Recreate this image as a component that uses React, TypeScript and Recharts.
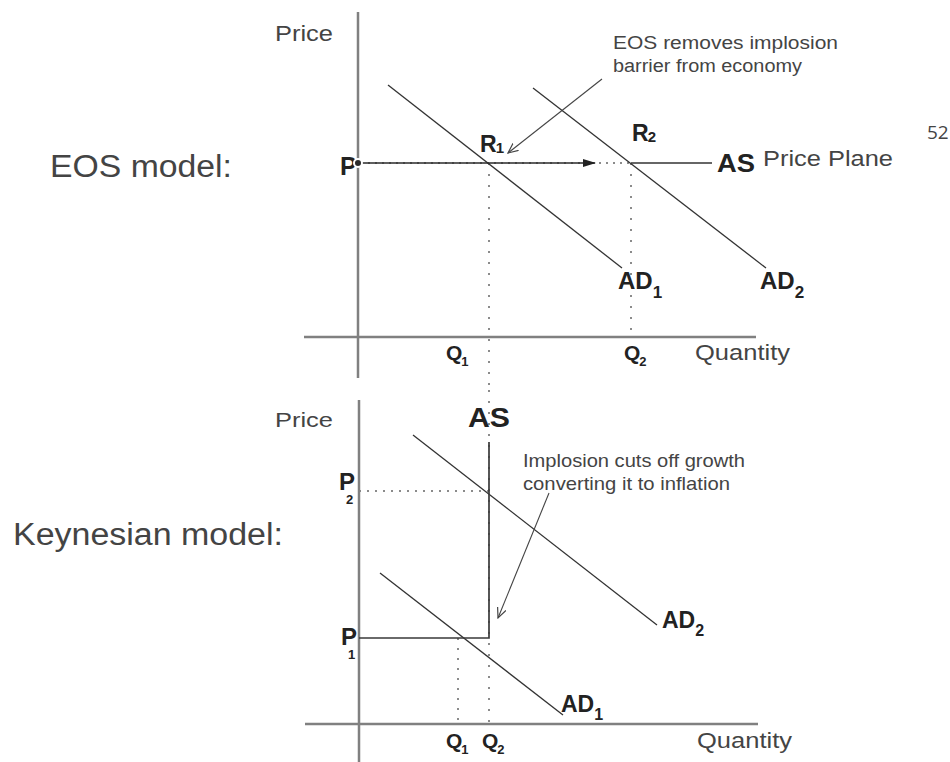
import { LineChart, Line, XAxis, YAxis, ReferenceLine, ReferenceDot } from 'recharts';

const FONT = '"Liberation Sans", Arial, Helvetica, sans-serif';

// EOS model (top panel): quantity on x, price on y
const eosPrice = 17.4;
const eosQuantities = [13.1, 27.3]; // Q1, Q2
const eosAD1 = [{ q: 3.0, p: 25.2 }, { q: 26.4, p: 6.9 }];
const eosAD2 = [{ q: 17.5, p: 24.9 }, { q: 40.8, p: 6.9 }];
const eosAS = [{ q: 0, p: eosPrice }, { q: 35.4, p: eosPrice }];
const eosShift = [{ q: 0, p: eosPrice }, { q: 23.7, p: eosPrice }];
const eosNote = [{ q: 24.4, p: 25.8 }, { q: 15.0, p: 18.4 }];

// Keynesian model (bottom panel)
const keynesPrices = [8.6, 23.3]; // P1, P2
const keynesQuantities = [9.9, 13.0]; // Q1, Q2
const keynesAD1 = [{ q: 2.1, p: 15.1 }, { q: 20.4, p: 0.9 }];
const keynesAD2 = [{ q: 5.4, p: 28.9 }, { q: 29.8, p: 9.9 }];
const keynesAS = [
  { q: 0, p: keynesPrices[0] },
  { q: keynesQuantities[1], p: keynesPrices[0] },
  { q: keynesQuantities[1], p: 28.2 }
];
const keynesNote = [{ q: 19.0, p: 23.1 }, { q: 13.9, p: 10.6 }];

type Tag = {
  x: number;
  y: number;
  text: string;
  size: number;
  bold?: boolean;
  len?: number;
  sub?: string;
  subSize?: number;
  subDx?: number;
  subDy?: number;
  font?: string;
};

const eosTags: Tag[] = [
  { x: -8.3, y: 29.6, text: 'Price', size: 22, len: 58 },
  { x: -1.8, y: eosPrice - 1.2, text: 'P', size: 25, bold: true },
  { x: 12.2, y: 18.5, text: 'R', sub: '1', size: 23, bold: true, subSize: 15, subDx: -1, subDy: 1 },
  { x: 27.4, y: 19.6, text: 'R', sub: '2', size: 23, bold: true, subSize: 15, subDx: -1, subDy: 1 },
  { x: 35.9, y: 16.5, text: 'AS', size: 26, bold: true, len: 38 },
  { x: 40.5, y: 17.1, text: 'Price Plane', size: 22, len: 130 },
  { x: 25.5, y: 28.8, text: 'EOS removes implosion', size: 18, len: 225 },
  { x: 25.5, y: 26.5, text: 'barrier from economy', size: 18, len: 189 },
  { x: 26.0, y: 4.8, text: 'AD', sub: '1', size: 24, bold: true, subSize: 17, subDy: 9 },
  { x: 40.2, y: 4.8, text: 'AD', sub: '2', size: 24, bold: true, subSize: 17, subDy: 9 },
  { x: 8.8, y: -2.3, text: 'Q', sub: '1', size: 21, bold: true, subSize: 13, subDx: -1, subDy: 6 },
  { x: 26.6, y: -2.3, text: 'Q', sub: '2', size: 21, bold: true, subSize: 13, subDx: -1, subDy: 6 },
  { x: 33.7, y: -2.3, text: 'Quantity', size: 22, len: 95 },
  { x: -30.8, y: 16.0, text: 'EOS model:', size: 31, len: 182 },
  { x: 56.9, y: 19.8, text: '52', size: 19, font: '"Open Sans", sans-serif' }
];

const keynesTags: Tag[] = [
  { x: -8.4, y: 29.7, text: 'Price', size: 21, len: 58 },
  { x: 10.9, y: 29.7, text: 'AS', size: 27, bold: true, len: 42 },
  { x: -2.0, y: 23.4, text: 'P', sub: '2', size: 24, bold: true, subSize: 13, subDx: -9, subDy: 14 },
  { x: -1.8, y: 7.9, text: 'P', sub: '1', size: 24, bold: true, subSize: 13, subDx: -9, subDy: 14 },
  { x: 16.4, y: 25.7, text: 'Implosion cuts off growth', size: 18.5, len: 222 },
  { x: 16.4, y: 23.4, text: 'converting it to inflation', size: 18.5, len: 207 },
  { x: 30.3, y: 9.6, text: 'AD', sub: '2', size: 23, bold: true, subSize: 16, subDy: 8 },
  { x: 20.2, y: 1.2, text: 'AD', sub: '1', size: 23, bold: true, subSize: 16, subDy: 8 },
  { x: 8.7, y: -2.4, text: 'Q', sub: '1', size: 21, bold: true, subSize: 13, subDx: -1, subDy: 6 },
  { x: 12.3, y: -2.4, text: 'Q', sub: '2', size: 21, bold: true, subSize: 13, subDx: -1, subDy: 6 },
  { x: 33.8, y: -2.4, text: 'Quantity', size: 22, len: 95 },
  { x: -34.6, y: 17.9, text: 'Keynesian model:', size: 31, len: 270 }
];

const AXIS = '#808080';
const INK = '#333';
const DOT = '#666';

const TagText = ({ cx, cy, tag }: { cx: number; cy: number; tag: Tag }) => (
  <text
    x={cx}
    y={cy}
    fontFamily={tag.font ?? FONT}
    fontSize={tag.size}
    fontWeight={tag.bold ? 700 : 400}
    fill={tag.bold ? '#222' : '#444'}
    textLength={tag.len}
    lengthAdjust={tag.len ? 'spacingAndGlyphs' : undefined}
  >
    {tag.text}
    {tag.sub && (
      <tspan dx={tag.subDx ?? 0} dy={tag.subDy ?? 0} fontSize={tag.subSize}>
        {tag.sub}
      </tspan>
    )}
  </text>
);

const renderTags = (tags: Tag[]) =>
  tags.map((t, i) => (
    <ReferenceDot
      key={i}
      x={t.x}
      y={t.y}
      r={0}
      ifOverflow="visible"
      shape={(props: any) => <TagText cx={props.cx} cy={props.cy} tag={t} />}
    />
  ));

const Markers = ({ id }: { id: string }) => (
  <defs>
    <marker id={`${id}-fill`} markerWidth="13" markerHeight="8" refX="12" refY="4" orient="auto" markerUnits="userSpaceOnUse">
      <path d="M0,0 L13,4 L0,8 Z" fill="#222" />
    </marker>
    <marker id={`${id}-open`} markerWidth="11" markerHeight="10" refX="10" refY="5" orient="auto" markerUnits="userSpaceOnUse">
      <path d="M0,0.5 L10,5 L0,9.5" fill="none" stroke="#444" strokeWidth="1.2" />
    </marker>
  </defs>
);

const seg = (x1: number, y1: number, x2: number, y2: number) => [
  { x: x1, y: y1 },
  { x: x2, y: y2 }
];

const EosPanel = () => (
  <LineChart width={950} height={390} margin={{ top: 0, right: 0, bottom: 0, left: 0 }}>
    <Markers id="eos" />
    <XAxis type="number" dataKey="q" domain={[-35.8, 59.2]} hide allowDataOverflow />
    <YAxis type="number" domain={[-5.3, 33.7]} hide allowDataOverflow />
    {/* dotted guides */}
    <ReferenceLine segment={seg(0.3, eosPrice, eosQuantities[1], eosPrice)} stroke={DOT} strokeWidth={1.5} strokeDasharray="2 5" ifOverflow="visible" />
    <ReferenceLine segment={seg(eosQuantities[0], eosPrice, eosQuantities[0], -5.3)} stroke={DOT} strokeWidth={1.5} strokeDasharray="2 9" ifOverflow="visible" />
    <ReferenceLine segment={seg(eosQuantities[1], eosPrice, eosQuantities[1], 0)} stroke={DOT} strokeWidth={1.5} strokeDasharray="2 9" ifOverflow="visible" />
    {/* axes */}
    <ReferenceLine segment={seg(0, -4.1, 0, 32.5)} stroke={AXIS} strokeWidth={2.5} ifOverflow="visible" />
    <ReferenceLine segment={seg(-5.4, 0, 39.8, 0)} stroke={AXIS} strokeWidth={2.5} ifOverflow="visible" />
    <Line data={eosAD1} dataKey="p" stroke={INK} strokeWidth={1.3} dot={false} isAnimationActive={false} />
    <Line data={eosAD2} dataKey="p" stroke={INK} strokeWidth={1.3} dot={false} isAnimationActive={false} />
    <Line data={[{ q: eosQuantities[1], p: eosPrice }, eosAS[1]]} dataKey="p" stroke={INK} strokeWidth={1.4} dot={false} isAnimationActive={false} />
    <Line data={eosShift} dataKey="p" stroke="#2a2a2a" strokeWidth={1.6} dot={false} markerEnd="url(#eos-fill)" isAnimationActive={false} />
    <Line data={eosNote} dataKey="p" stroke="#444" strokeWidth={1.1} dot={false} markerEnd="url(#eos-open)" isAnimationActive={false} />
    {renderTags(eosTags)}
  </LineChart>
);

const KeynesPanel = () => (
  <LineChart width={950} height={372} margin={{ top: 0, right: 0, bottom: 0, left: 0 }}>
    <Markers id="key" />
    <XAxis type="number" dataKey="q" domain={[-35.9, 59.1]} hide allowDataOverflow />
    <YAxis type="number" domain={[-3.8, 33.4]} hide allowDataOverflow />
    <ReferenceLine segment={seg(0, keynesPrices[1], keynesQuantities[1], keynesPrices[1])} stroke={DOT} strokeWidth={1.5} strokeDasharray="2 6" ifOverflow="visible" />
    <ReferenceLine segment={seg(keynesQuantities[0], keynesPrices[0], keynesQuantities[0], 0)} stroke={DOT} strokeWidth={1.5} strokeDasharray="2 8" ifOverflow="visible" />
    <ReferenceLine segment={seg(keynesQuantities[1], 33.4, keynesQuantities[1], 0)} stroke={DOT} strokeWidth={1.5} strokeDasharray="2 9" ifOverflow="visible" />
    <ReferenceLine segment={seg(0, -3.8, 0, 32.4)} stroke={AXIS} strokeWidth={2.5} ifOverflow="visible" />
    <ReferenceLine segment={seg(-5.4, 0, 39.9, 0)} stroke={AXIS} strokeWidth={2.5} ifOverflow="visible" />
    <Line data={keynesAD1} dataKey="p" stroke={INK} strokeWidth={1.3} dot={false} isAnimationActive={false} />
    <Line data={keynesAD2} dataKey="p" stroke={INK} strokeWidth={1.3} dot={false} isAnimationActive={false} />
    <Line data={keynesAS} dataKey="p" stroke="#3a3a3a" strokeWidth={1.7} dot={false} isAnimationActive={false} />
    <Line data={keynesNote} dataKey="p" stroke="#444" strokeWidth={1.1} dot={false} markerEnd="url(#key-open)" isAnimationActive={false} />
    {renderTags(keynesTags)}
  </LineChart>
);

export default function App() {
  return (
    <div style={{ position: 'absolute', left: 0, top: 0, width: 950, height: 762, background: '#fff' }}>
      <div style={{ position: 'absolute', left: 0, top: 0 }}>
        <EosPanel />
      </div>
      <div style={{ position: 'absolute', left: 0, top: 390 }}>
        <KeynesPanel />
      </div>
    </div>
  );
}
